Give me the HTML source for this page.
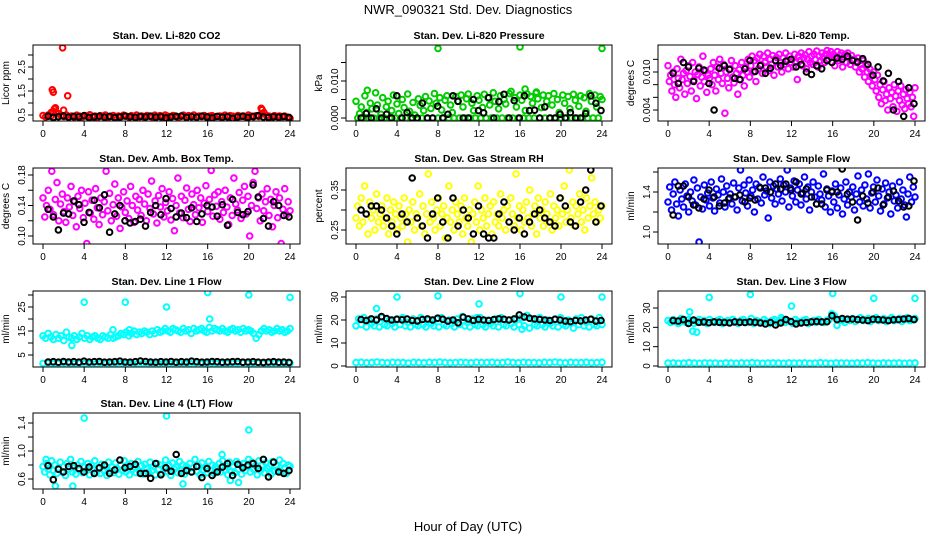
<!DOCTYPE html>
<html><head><meta charset="utf-8"><style>
html,body{margin:0;padding:0;background:#fff;}
svg{display:block;font-family:"Liberation Sans",sans-serif;}
</style></head><body>
<svg id="chart" width="936" height="540" viewBox="0 0 936 540" xmlns="http://www.w3.org/2000/svg">
<rect x="0" y="0" width="936" height="540" fill="#fff"/>
<text x="468" y="14" text-anchor="middle" font-size="13">NWR_090321  Std. Dev. Diagnostics</text>
<text x="468" y="531" text-anchor="middle" font-size="13">Hour of Day (UTC)</text>
</svg>
<script>
// ---------- data ----------
const co2Color=[0.48,0.42,0.50,0.45,0.40,0.62,0.55,0.47,0.44,0.50,0.43,0.46,0.41,0.49,0.45,0.42,0.48,0.44,0.51,0.43,0.46,0.40,0.47,0.45,0.50,0.42,0.44,0.48,0.41,0.46,0.43,0.49,0.45,0.42,0.47,0.44,0.50,0.43,0.46,0.41,0.48,0.45,0.42,0.49,0.44,0.47,0.43,0.50,0.45,0.42,0.48,0.46,0.41,0.44,0.49,0.43,0.47,0.45,0.50,0.42,0.46,0.44,0.48,0.41,0.45,0.47,0.43,0.30,0.46,0.44,0.49,0.42,0.47,0.45,0.43,0.48,0.44,0.46,0.42,0.50,0.45,0.43,0.47,0.44,0.55,0.60,0.48,0.45,0.42,0.47,0.44,0.46,0.43,0.45,0.41,0.36];
const co2OutX=[0.9,1.0,1.0,1.1,1.9,2.0,2.4,21.2,21.3,0.8,1.2];
const co2OutY=[1.55,1.45,0.65,0.75,3.3,0.7,1.3,0.78,0.72,0.6,0.8];
const co2Black=[0.45,0.40,0.43,0.46,0.41,0.44,0.42,0.47,0.40,0.43,0.45,0.41,0.44,0.39,0.42,0.46,0.43,0.40,0.44,0.42,0.45,0.41,0.43,0.38,0.42,0.44,0.46,0.40,0.43,0.41,0.45,0.42,0.38,0.44,0.41,0.43,0.36,0.42,0.45,0.40,0.44,0.47,0.42,0.40,0.43,0.41,0.44,0.40];

const presColor=[0.0045,0,0.0012,0.0030,0,0.0060,0.0015,0,0.0040,0.0025,0,0.0068,0.0035,0,0.0010,0.0055,0,0.0030,0.0045,0,0.0020,0.0062,0,0.0038,0.0012,0,0.0050,0.0028,0,0.0065,0.0018,0,0.0042,0.0008,0,0.0052,0.0034,0,0.0020,0.0058,0,0.0046,0.0026,0,0.0066,0.0040,0,0.0055,0.0022,0,0.0048,0.0060,0,0.0035,0.0015,0,0.0058,0.0045,0,0.0062,0.0030,0,0.0052,0.0065,0,0.0040,0.0020,0,0.0060,0.0048,0,0.0028,0.0064,0,0.0055,0.0035,0,0.0068,0.0045,0,0.0025,0.0060,0,0.0050,0.0038,0,0.0066,0.0072,0,0.0055,0.0030,0,0.0062,0.0048,0,0.0020,0.0065,0,0.0058,0.0040,0,0.0067,0.0052,0,0.0028,0.0062,0,0.0045,0.0060,0,0.0035,0.0066,0,0.0050,0.0015,0,0.0062,0.0040,0,0.0058,0.0025,0,0.0064,0.0048,0,0.0032,0.0060,0,0.0055,0.0018,0,0.0066,0.0045,0,0.0062,0.0030,0,0.0058,0.0050];
const presOutX=[1.1,8,16,24,16.5,17.6];
const presOutY=[0.0075,0.0188,0.0192,0.0188,0.0078,0.0070];
const presBlack=[0,0.0012,0,0.0025,0,0.0010,0,0.0060,0,0.0015,0,0,0.0040,0,0,0.0032,0,0.0010,0.0060,0.0045,0,0,0.0050,0.0020,0.0014,0.0055,0,0.0044,0.0064,0,0.0047,0,0.0060,0.0020,0.0021,0,0.0030,0,0,0.0010,0,0.0015,0,0,0.0012,0.0060,0.0040,0.0020];

const tempColor=[0.0110,0.0085,0.0095,0.0070,0.0100,0.0080,0.0060,0.0105,0.0090,0.0075,0.0120,0.0088,0.0098,0.0065,0.0102,0.0082,0.0110,0.0093,0.0070,0.0115,0.0087,0.0100,0.0058,0.0096,0.0108,0.0078,0.0092,0.0125,0.0085,0.0102,0.0068,0.0095,
0.0090,0.0105,0.0080,0.0115,0.0095,0.0070,0.0108,0.0088,0.0120,0.0098,0.0082,0.0112,0.0035,0.0100,0.0090,0.0075,0.0105,0.0118,0.0092,0.0083,0.0110,0.0098,0.0065,0.0104,0.0088,0.0115,0.0095,0.0078,0.0108,0.0100,0.0120,0.0092,
0.0110,0.0125,0.0100,0.0118,0.0085,0.0122,0.0105,0.0128,0.0112,0.0098,0.0125,0.0115,0.0108,0.0130,0.0102,0.0120,0.0112,0.0126,0.0095,0.0118,0.0123,0.0108,0.0128,0.0115,0.0100,0.0122,0.0112,0.0130,0.0118,0.0105,0.0125,0.0115,
0.0120,0.0108,0.0128,0.0115,0.0088,0.0125,0.0118,0.0130,0.0110,0.0122,0.0127,0.0105,0.0120,0.0132,0.0115,0.0125,0.0112,0.0128,0.0120,0.0133,0.0108,0.0125,0.0118,0.0130,0.0122,0.0115,0.0128,0.0134,0.0120,0.0126,0.0132,0.0124,
0.0128,0.0110,0.0122,0.0132,0.0118,0.0126,0.0130,0.0108,0.0124,0.0128,0.0115,0.0130,0.0122,0.0112,0.0126,0.0118,0.0120,0.0108,0.0115,0.0122,0.0100,0.0112,0.0105,0.0118,0.0092,0.0110,0.0100,0.0085,0.0105,0.0095,0.0078,0.0100,
0.0088,0.0070,0.0095,0.0060,0.0080,0.0050,0.0072,0.0085,0.0055,0.0065,0.0040,0.0075,0.0058,0.0068,0.0045,0.0080,0.0062,0.0038,0.0070,0.0055,0.0078,0.0048,0.0065,0.0042,0.0072,0.0058,0.0050,0.0068,0.0045,0.0060,0.0030,0.0075];
const tempOutX=[];
const tempOutY=[];
const tempBlack=[0.0098,0.0082,0.0115,0.0108,0.0085,0.0106,0.0103,0.0082,0.0040,0.0106,0.0110,0.0104,0.0090,0.0088,0.0105,0.0118,0.0101,0.0110,0.0098,0.0106,0.0118,0.0110,0.0117,0.0120,0.0108,0.0112,0.0100,0.0096,0.0110,0.0105,0.0118,0.0115,0.0122,0.0120,0.0125,0.0118,0.0116,0.0121,0.0112,0.0095,0.0108,0.0086,0.0098,0.0040,0.0085,0.0030,0.0075,0.0050];

const ambColor=[.150,.125,.140,.160,.135,.185,.128,.148,.170,.120,.142,.155,.132,.118,.150,.138,.165,.127,.145,.112,.152,.136,.160,.124,.143,.090,.158,.130,.147,.122,.162,.137,.115,.150,.128,.145,.185,.133,.156,.120,.141,.168,.126,.150,.110,.138,.158,.131,.146,.123,.165,.140,.118,.152,.134,.148,.127,.160,.142,.120,.155,.136,.172,.129,.146,.117,.153,.138,.162,.125,.144,.133,.158,.121,.149,.107,.140,.176,.130,.152,.124,.147,.163,.135,.119,.155,.141,.128,.160,.137,.150,.118,.143,.166,.132,.148,.186,.126,.154,.139,.158,.122,.145,.131,.160,.138,.115,.150,.127,.176,.142,.134,.157,.123,.147,.165,.129,.152,.100,.140,.170,.185,.136,.150,.120,.155,.133,.145,.162,.127,.148,.112,.140,.158,.124,.150,.090,.135,.162,.128,.145,.133];
const ambOutX=[];
const ambOutY=[];
const ambBlack=[.135,.125,.108,.130,.129,.146,.141,.118,.131,.147,.137,.154,.105,.129,.140,.120,.117,.119,.122,.113,.131,.140,.128,.149,.136,.125,.130,.124,.137,.119,.129,.140,.138,.126,.141,.114,.148,.131,.128,.132,.167,.151,.123,.113,.145,.140,.127,.125];

const rhColor=[.28,.31,.26,.33,.27,.36,.29,.24,.32,.28,.30,.25,.34,.27,.29,.31,.26,.28,.33,.24,.30,.27,.32,.29,.25,.31,.28,.26,.33,.29,.22,.30,.27,.32,.25,.29,.28,.34,.26,.31,.24,.29,.39,.27,.32,.28,.25,.30,.33,.26,.29,.31,.23,.28,.36,.27,.30,.25,.32,.29,.27,.31,.24,.33,.28,.26,.30,.22,.29,.32,.27,.36,.25,.30,.28,.33,.26,.29,.31,.24,.32,.27,.29,.26,.34,.28,.30,.25,.31,.27,.33,.29,.26,.39,.28,.31,.25,.30,.27,.32,.28,.35,.26,.29,.31,.24,.33,.28,.30,.26,.32,.29,.27,.34,.25,.31,.28,.30,.26,.33,.29,.36,.27,.30,.40,.28,.32,.26,.31,.29,.34,.27,.30,.25,.33,.28,.31,.38,.29,.32,.27,.30,.28,.31];
const rhOutX=[];
const rhOutY=[];
const rhBlack=[.30,.29,.31,.31,.30,.28,.26,.24,.29,.27,.38,.28,.26,.23,.29,.33,.27,.23,.33,.26,.30,.28,.24,.31,.24,.23,.23,.29,.32,.27,.25,.28,.24,.27,.29,.30,.28,.27,.26,.33,.31,.27,.26,.32,.35,.40,.27,.31];

const flowColor=[1.30,1.45,1.22,1.38,1.50,1.28,1.16,1.42,1.33,1.25,1.48,1.36,1.20,1.40,1.31,1.52,1.27,1.44,0.90,1.35,1.23,1.47,1.32,1.39,1.26,1.50,1.34,1.21,1.43,1.37,1.29,1.53,1.40,1.25,1.46,1.33,1.38,1.28,1.49,1.35,1.22,1.44,1.62,1.31,1.47,1.39,1.26,1.52,1.36,1.42,1.20,1.48,1.33,1.45,1.29,1.55,1.37,1.41,1.14,1.50,1.34,1.46,1.28,1.43,1.38,1.53,1.31,1.47,1.40,1.62,1.25,1.44,1.36,1.51,1.30,1.42,1.48,1.27,1.39,1.55,1.33,1.45,1.22,1.40,1.50,1.35,1.28,1.46,1.38,1.32,1.58,1.25,1.43,1.36,1.20,1.41,1.30,1.48,1.24,1.37,1.44,1.18,1.33,1.50,1.27,1.40,1.35,1.45,1.22,1.38,1.56,1.30,1.42,1.26,1.47,1.33,1.58,1.24,1.39,1.45,1.30,1.52,1.36,1.21,1.43,1.28,1.49,1.34,1.40,1.18,1.46,1.31,1.37,1.24,1.50,1.33,1.42,1.27,1.15,1.38,1.55,1.30,1.45,1.35];
const flowOutX=[];
const flowOutY=[];
const flowBlack=[1.17,1.46,1.46,1.35,1.27,1.24,1.33,1.42,1.35,1.26,1.29,1.34,1.35,1.37,1.30,1.34,1.32,1.44,1.44,1.40,1.48,1.43,1.48,1.42,1.50,1.38,1.43,1.35,1.28,1.28,1.42,1.40,1.40,1.63,1.38,1.30,1.12,1.36,1.29,1.40,1.44,1.27,1.35,1.41,1.31,1.25,1.26,1.51];

const lowBand=[1.5,1.6,1.4,1.5,1.7,1.5,1.4,1.6,1.5,1.5,1.3,1.6,1.5,1.4,1.6,1.5,1.7,1.5,1.4,1.5,1.6,1.5,1.4,1.6,1.5,1.5,1.6,1.4,1.5,1.7,1.5,1.4,1.6,1.5,1.5,1.4,1.6,1.5,1.7,1.5,1.4,1.6,1.5,1.5,1.6,1.4,1.5,1.6];

const line1Color=[13,12,14,12.5,11.5,13.5,12,13,11,14.5,12.5,12,13,11.5,12.5,14,12,13,11.5,12.5,13,12,11.5,13,12.5,12,13.5,12,12.5,13,14,13.5,14.5,13,14,15,13.5,14.5,14,15,14.5,13.5,15,14,15.5,14.5,15,16,15,14.5,16,15.5,15,14.5,16,15,15.5,14,16,15,15.5,16,15,14.5,16.5,15,16,15.5,15,16,15,14.5,15.5,16,15,15.5,14.5,16,15,15.5,15,14,12,13.5,15,16,15,15.5,14.5,15,16,15,15.5,14.5,15,16];
const line1OutX=[4,8,12,16,16.2,20,24,2.8,6.8,8.4];
const line1OutY=[27,27,25,31,20,30,29,9,15.5,15.5];
const line1Black=[2.1,2.2,2.0,2.3,2.1,2.2,2.0,2.4,2.1,2.2,2.3,2.0,2.1,2.2,2.4,2.1,2.0,2.2,2.5,2.3,2.1,2.0,2.2,2.1,2.3,2.0,2.2,2.1,2.4,2.2,2.0,2.1,2.3,2.2,2.0,2.1,2.2,2.3,2.0,2.1,2.2,2.0,1.9,2.1,2.2,2.0,2.1,1.9];

const line2Color=[17.5,20.5,18,21,17,20,18.5,17.5,20.5,17,21,18,17.5,20,18.5,17,20.5,18,21,17.5,19,17,20.5,18,17.5,21,18,17,20,18.5,17.5,20.5,17,21,18,17.5,20,18.5,17,20.5,18,21.5,17.5,19,17,20.5,18,17.5,21,18,17,20,18.5,17.5,20.5,17,21,18,17.5,20,18.5,17,20.5,18,21,17.5,22,16.5,20.5,18,17.5,21,18,17,20,18.5,17.5,20.5,17,21,18,17.5,20,18.5,16.5,20.5,18,21,17.5,19,17,20.5,18,17.5,21,18];
const line2OutX=[2,4,8,12,16,20,24,16.2,11.8];
const line2OutY=[25,30,30.5,27,31.5,30,30,16,21];
const line2Black=[20.2,19.8,20.5,20.0,21.5,20.6,20.0,20.3,20.1,20.4,19.8,19.6,20.2,20.5,20.0,20.8,20.3,19.5,20.0,18.8,21.2,20.5,19.8,20.3,20.0,19.8,20.2,20.5,20.3,20.0,20.5,22.2,21.3,20.8,20.5,20.2,20.0,19.8,20.3,20.0,19.5,19.3,19.8,19.6,20.0,20.3,19.5,19.8];

const line3Color=[23.5,22.5,24,23,22,24.5,23,22.5,24,23.5,22,23,24,22.5,23.5,22,24,23,22.5,23.5,24,22,23,23.5,22.5,24,23,22,23.5,24,22.5,23,24.5,22,23.5,23,22.5,24,23,22,23.5,24,22.5,23,24,22.5,23.5,23,22,24,23,22.5,23.5,24,22,23,23.5,22.5,24,23,22.5,23.5,24,27,26,21,24,23.5,22.5,24,23.5,24.5,23,24,25,23.5,24,24.5,23,24,25,23.5,24,24.5,23,24,25,23.5,24,24.5,23,24,25,23.5,24,24.5];
const line3OutX=[2.1,2.4,2.8,4,8,12,16,20,24,11];
const line3OutY=[28,18,17.5,35.5,37,31,37.5,35,35,25];
const line3Black=[23.5,23.2,24.0,22.0,23.8,22.6,22.8,22.4,22.8,22.6,22.5,22.3,22.8,22.6,22.5,22.8,22.6,22.3,21.8,22.5,21.2,22.3,24.0,23.0,21.8,22.3,22.5,22.8,23.0,22.8,22.9,26.0,24.0,24.5,24.2,24.3,24.0,23.8,23.5,24.2,24.0,23.8,23.5,23.9,24.0,24.3,24.5,24.0];

const line4Color=[0.78,0.70,0.82,0.74,0.66,0.86,0.72,0.80,0.68,0.76,0.84,0.70,0.78,0.65,0.82,0.74,0.88,0.70,0.76,0.67,0.80,0.73,0.85,0.69,0.77,0.72,0.82,0.66,0.79,0.74,0.86,0.70,0.76,0.68,0.81,0.73,0.78,0.65,0.84,0.71,0.77,0.69,0.83,0.74,0.67,0.80,0.72,0.86,0.70,0.78,0.66,0.82,0.74,0.77,0.69,0.85,0.71,0.79,0.67,0.81,0.75,0.70,0.84,0.72,0.78,0.66,0.82,0.74,0.80,0.68,0.76,0.87,0.71,0.79,0.65,0.83,0.74,0.77,0.69,0.85,0.72,0.80,0.67,0.78,0.74,0.82,0.70,0.76,0.88,0.71,0.79,0.66,0.83,0.73,0.77,0.69,0.85,0.72,0.80,0.68,0.78,0.74,0.82,0.70,0.86,0.73,0.79,0.66,0.84,0.71,0.77,0.69,0.85,0.74,0.80,0.67,0.82,0.72,0.78,0.88,0.70,0.84,0.74,0.79,0.66,0.86,0.72,0.80,0.69,0.83,0.75,0.78,0.67,0.85,0.71,0.79,0.73,0.87,0.70,0.82,0.76,0.68,0.80,0.78];
const line4OutX=[4,12,20,1.2,16,2.9,17.4,19,18.2,0.3,13.6];
const line4OutY=[1.47,1.5,1.3,0.5,0.49,0.5,0.95,0.55,0.58,0.88,0.53];
const line4Black=[0.79,0.59,0.74,0.70,0.78,0.79,0.75,0.70,0.77,0.68,0.76,0.80,0.68,0.73,0.87,0.76,0.78,0.81,0.68,0.68,0.61,0.82,0.66,0.76,0.71,0.95,0.68,0.72,0.70,0.78,0.62,0.75,0.65,0.70,0.77,0.82,0.65,0.81,0.76,0.80,0.82,0.75,0.88,0.63,0.84,0.70,0.68,0.72];

// ---------- panels ----------
const panels=[
 {name:'co2',title:'Stan. Dev. Li-820 CO2',ylab:'Licor ppm',col:0,row:0,color:'#ff0000',main:[co2Color],ox:co2OutX,oy:co2OutY,black:co2Black,y1:[0.5,115],y2:[2.5,67],ticks:[0.5,1,1.5,2,2.5,3],labels:['0.5','1.5','2.5'],labelVals:[0.5,1.5,2.5]},
 {name:'pressure',title:'Stan. Dev. Li-820 Pressure',ylab:'kPa',col:1,row:0,color:'#00cc00',main:[presColor],ox:presOutX,oy:presOutY,black:presBlack,y1:[0,118],y2:[0.01,81],ticks:[0,0.005,0.01,0.015],labels:['0.000','0.010'],labelVals:[0,0.01]},
 {name:'li820-temp',title:'Stan. Dev. Li-820 Temp.',ylab:'degrees C',col:2,row:0,color:'#ff00ff',main:[tempColor],ox:tempOutX,oy:tempOutY,black:tempBlack,y1:[0.004,110],y2:[0.010,72],ticks:[0.004,0.006,0.008,0.010,0.012],labels:['0.004','0.010'],labelVals:[0.004,0.010]},
 {name:'amb-box-temp',title:'Stan. Dev. Amb. Box Temp.',ylab:'degrees C',col:0,row:1,color:'#ff00ff',main:[ambColor],ox:ambOutX,oy:ambOutY,black:ambBlack,y1:[0.10,236],y2:[0.18,175],ticks:[0.10,0.12,0.14,0.16,0.18],labels:['0.10','0.14','0.18'],labelVals:[0.10,0.14,0.18]},
 {name:'gas-stream-rh',title:'Stan. Dev. Gas Stream RH',ylab:'percent',col:1,row:1,color:'#ffff00',main:[rhColor],ox:rhOutX,oy:rhOutY,black:rhBlack,y1:[0.25,230],y2:[0.35,190],ticks:[0.25,0.30,0.35],labels:['0.25','0.35'],labelVals:[0.25,0.35]},
 {name:'sample-flow',title:'Stan. Dev. Sample Flow',ylab:'ml/min',col:2,row:1,color:'#0000ff',main:[flowColor],ox:flowOutX,oy:flowOutY,black:flowBlack,y1:[1.0,232],y2:[1.4,192],ticks:[1.0,1.2,1.4,1.6],labels:['1.0','1.4'],labelVals:[1.0,1.4]},
 {name:'line1-flow',title:'Stan. Dev. Line 1 Flow',ylab:'ml/min',col:0,row:2,color:'#00ffff',main:[line1Color,lowBand],ox:line1OutX,oy:line1OutY,black:line1Black,y1:[5,355],y2:[25,307],ticks:[5,10,15,20,25,30],labels:['5','15','25'],labelVals:[5,15,25]},
 {name:'line2-flow',title:'Stan. Dev. Line 2 Flow',ylab:'ml/min',col:1,row:2,color:'#00ffff',main:[line2Color,lowBand],ox:line2OutX,oy:line2OutY,black:line2Black,y1:[0,366],y2:[30,297],ticks:[0,10,20,30],labels:['0','10','20','30'],labelVals:[0,10,20,30]},
 {name:'line3-flow',title:'Stan. Dev. Line 3 Flow',ylab:'ml/min',col:2,row:2,color:'#00ffff',main:[line3Color,lowBand],ox:line3OutX,oy:line3OutY,black:line3Black,y1:[0,366],y2:[30,308],ticks:[0,10,20,30],labels:['0','10','20','30'],labelVals:[0,10,20,30]},
 {name:'line4-flow',title:'Stan. Dev. Line 4 (LT) Flow',ylab:'ml/min',col:0,row:3,color:'#00ffff',main:[line4Color],ox:line4OutX,oy:line4OutY,black:line4Black,y1:[0.6,479],y2:[1.4,423],ticks:[0.6,0.8,1.0,1.2,1.4],labels:['0.6','1.0','1.4'],labelVals:[0.6,1.0,1.4]}
];
const cols=[{l:33,r:300,x0:43,x24:290},{l:346,r:612,x0:356,x24:602},{l:658,r:925,x0:668,x24:915}];
const rows=[{t:45,b:121},{t:168,b:244},{t:291,b:367},{t:413,b:489}];
const xTicks=[0,4,8,12,16,20,24];

const NS='http://www.w3.org/2000/svg';
const svg=document.getElementById('chart');
function mk(tag,attrs,parent){const e=document.createElementNS(NS,tag);for(const k in attrs)e.setAttribute(k,attrs[k]);(parent||svg).appendChild(e);return e;}

panels.forEach(p=>{
  const c=cols[p.col],r=rows[p.row];
  const xs=h=>c.x0+(c.x24-c.x0)*h/24;
  const ys=v=>p.y1[1]+(v-p.y1[0])*(p.y2[1]-p.y1[1])/(p.y2[0]-p.y1[0]);
  const g=mk('g',{});
  
  
  const t=mk('text',{x:(c.l+c.r)/2,y:r.t-6,'text-anchor':'middle','font-size':'10.5','font-weight':'bold'},g);
  t.textContent=p.title;
  
  
  const yl=mk('text',{x:0,y:0,'text-anchor':'middle','font-size':'10',transform:`translate(${c.l-24},${(r.t+r.b)/2}) rotate(-90)`},g);
  yl.textContent=p.ylab;
  
  
  const cp=mk('clipPath',{id:'cp-'+p.name},g);
  mk('rect',{x:c.l,y:r.t,width:c.r-c.l,height:r.b-r.t},cp);
  const pts=mk('g',{'clip-path':`url(#cp-${p.name})`},g);
  
  
  function dot(h,v,col,nm){
    const e=mk('circle',{cx:xs(h).toFixed(1),cy:ys(v).toFixed(1),r:2.8,fill:'none',stroke:col,'stroke-width':2},pts);
    
    
  }
  p.main.forEach(arr=>{arr.forEach((v,i)=>dot(i*24/(arr.length-1),v,p.color,p.name+'-point'));});
  p.ox.forEach((h,i)=>dot(h,p.oy[i],p.color,p.name+'-outlier'));
  p.black.forEach((v,i)=>dot(0.5+i*23.4/(p.black.length-1),v,'#000',p.name+'-black-point'));
  const bx=mk('rect',{x:c.l,y:r.t,width:c.r-c.l,height:r.b-r.t,fill:'none',stroke:'#000','stroke-width':1},g);
  
  
  mk('line',{x1:xs(0),x2:xs(24),y1:r.b,y2:r.b,stroke:'#000'},g);
  xTicks.forEach(h=>{
    mk('line',{x1:xs(h),x2:xs(h),y1:r.b,y2:r.b+5,stroke:'#000'},g);
    const tl=mk('text',{x:xs(h),y:r.b+16,'text-anchor':'middle','font-size':'10'},g);
    tl.textContent=String(h);
    
    
  });
  const ty=p.ticks.map(ys);
  mk('line',{x1:c.l,x2:c.l,y1:Math.min(...ty),y2:Math.max(...ty),stroke:'#000'},g);
  p.ticks.forEach(v=>mk('line',{x1:c.l-5,x2:c.l,y1:ys(v),y2:ys(v),stroke:'#000'},g));
  p.labelVals.forEach((v,i)=>{
    const tl=mk('text',{x:0,y:0,'text-anchor':'middle','font-size':'10',transform:`translate(${c.l-8},${ys(v)}) rotate(-90)`},g);
    tl.textContent=p.labels[i];
    
    
  });
});
</script>
</body></html>
